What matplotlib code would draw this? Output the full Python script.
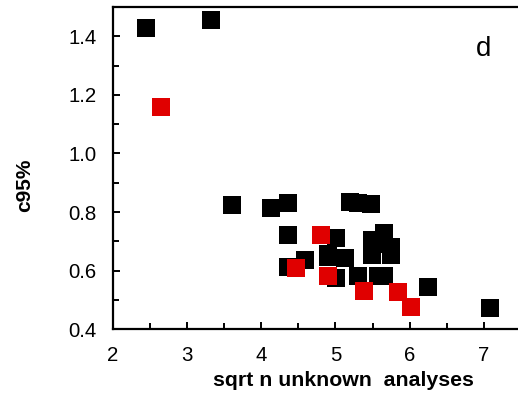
import matplotlib.pyplot as plt
from matplotlib.ticker import MultipleLocator

plt.rcParams['font.family'] = ['Liberation Sans', 'DejaVu Sans']

# ---------- DATA ----------
black_x = [2.44, 3.32, 3.60, 4.13, 4.36, 4.36, 4.36, 4.59, 4.90, 4.90, 5.01, 5.01,
           5.13, 5.19, 5.30, 5.48, 5.30, 5.49, 5.49, 5.66, 5.66, 5.75, 5.75, 5.57,
           5.65, 6.25, 7.08]
black_y = [1.43, 1.455, 0.825, 0.814, 0.83, 0.72, 0.612, 0.636, 0.655, 0.645, 0.712, 0.575,
           0.643, 0.835, 0.832, 0.828, 0.582, 0.705, 0.653, 0.729, 0.69, 0.68, 0.653, 0.58,
           0.58, 0.543, 0.472]

red_x = [2.65, 4.47, 4.80, 4.90, 5.38, 5.84, 6.02]
red_y = [1.16, 0.609, 0.722, 0.582, 0.53, 0.527, 0.475]

# ---------- PLOT ----------
fig = plt.figure(figsize=(5.18, 3.96), dpi=100)
ax = fig.add_axes([0.218, 0.169, 0.782, 0.813])

ax.scatter(black_x, black_y, marker='s', s=175, color='black', linewidths=0, zorder=3)
ax.scatter(red_x, red_y, marker='s', s=175, color='#e00000', linewidths=0, zorder=3)

ax.set_xlim(2, 7.46)
ax.set_ylim(0.4, 1.5)
ax.xaxis.set_major_locator(MultipleLocator(1))
ax.xaxis.set_minor_locator(MultipleLocator(0.5))
ax.yaxis.set_major_locator(MultipleLocator(0.2))
ax.yaxis.set_minor_locator(MultipleLocator(0.1))
ax.yaxis.set_major_formatter(plt.FuncFormatter(lambda v, p: f'{v:.1f}'))

ax.spines['right'].set_visible(False)
for s in ['left', 'bottom', 'top']:
    ax.spines[s].set_linewidth(1.6)
ax.tick_params(which='both', direction='in', width=1.4, labelsize=14.7,
               top=False, right=False)
ax.tick_params(which='major', length=5)
ax.tick_params(which='minor', length=4)
ax.tick_params(axis='y', which='major', pad=12)
ax.tick_params(axis='x', which='major', pad=12.5)

ax.set_xlabel('sqrt n unknown  analyses', fontsize=15.3, fontweight='bold')
ax.xaxis.set_label_coords(0.568, -0.13)
ax.set_ylabel('c95%', fontsize=15, fontweight='bold')
ax.yaxis.set_label_coords(-0.195, 0.447)

ax.text(0.915, 0.87, 'd', transform=ax.transAxes, fontsize=20,
        ha='center', va='center')

plt.savefig('out.png', dpi=100)
